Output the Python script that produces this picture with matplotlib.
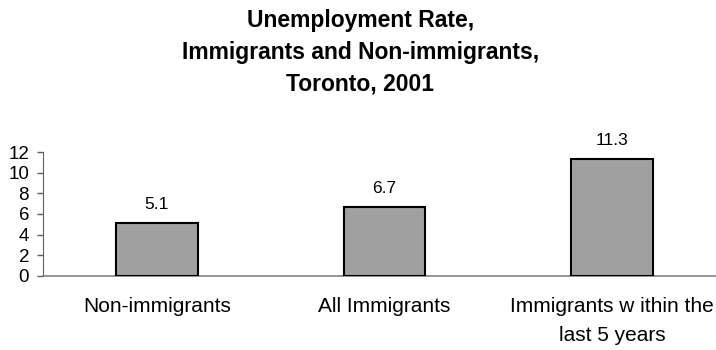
import matplotlib
matplotlib.use("Agg")
import matplotlib.pyplot as plt

categories = ["Non-immigrants", "All Immigrants", "Immigrants w ithin the\nlast 5 years"]
values = [5.1, 6.7, 11.3]
yticks = [0, 2, 4, 6, 8, 10, 12]
title = "Unemployment Rate,\nImmigrants and Non-immigrants,\nToronto, 2001"

plt.rcParams['font.family'] = ['Liberation Sans', 'DejaVu Sans']

fig = plt.figure(figsize=(7.16, 3.5), dpi=100)
ax = fig.add_axes([43/716, 1 - 276/350, 1 - 43/716, 124/350])

x = list(range(len(categories)))
bars = ax.bar(x, values, width=0.36, color="#A0A0A0", edgecolor="black", linewidth=1.5, zorder=3)
for xi, v in zip(x, values):
    ax.annotate(f"{v}", (xi, v), xytext=(0, 8), textcoords="offset points",
                ha="center", va="bottom", fontsize=12.5)

ax.set_ylim(0, 12)
ax.set_xlim(-0.5, 2.5 - 10/228)
ax.set_yticks(yticks)
ax.set_yticklabels([str(t) for t in yticks], fontsize=13.5)
ax.set_xticks(x)
ax.set_xticklabels([])
ax.tick_params(axis="x", length=0)
ax.tick_params(axis="y", length=4, width=1, color="#606060", pad=6)
for s in ["top", "right"]:
    ax.spines[s].set_visible(False)
ax.spines["left"].set_color("#606060")
ax.spines["bottom"].set_color("#808080")
ax.spines["bottom"].set_linewidth(1.2)

# category labels (baselines measured in pixels below the x axis)
trans = ax.get_xaxis_transform()
for xi, cat in zip(x, categories):
    lines = cat.split("\n")
    for i, line in enumerate(lines):
        ax.annotate(line, (xi, 0), xycoords=trans,
                    xytext=(0, -(36 + 29 * i) * 0.72), textcoords="offset points",
                    ha="center", va="baseline", fontsize=15)

fig.text(0.503, 1 - 9/350, title, ha="center", va="top", fontsize=16.5, fontweight="bold", linespacing=1.5)

fig.savefig("out.png", dpi=100)
